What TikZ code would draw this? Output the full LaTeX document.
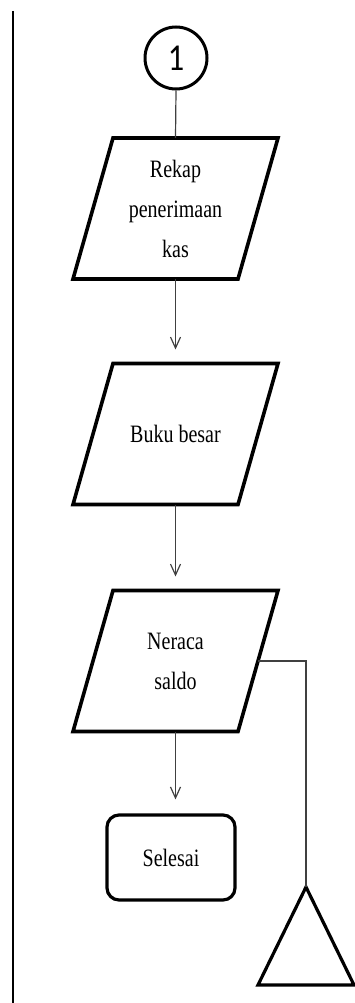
\documentclass[tikz,border=0pt]{standalone}
\usepackage{fontspec}
\usetikzlibrary{arrows.meta}
\newfontfamily\lblfont[FakeStretch=0.8]{Liberation Serif}
\newfontfamily\numfont[FakeStretch=0.85]{Carlito}
\tikzset{
  paraframe/.style={minimum width=205pt, minimum height=141pt, inner sep=0pt, outer sep=0pt, align=center, font=\lblfont\fontsize{25}{40}\selectfont},
  paraline/.style={line width=3.6pt, line join=miter},
  conn/.style={black!75, line width=1.2pt},
  arr/.style={conn, -{Straight Barb[length=11pt,width=10pt,line width=1.2pt]}, shorten >=14pt},
  termbox/.style={draw, line width=3.2pt, rounded corners=12pt, minimum width=128pt, minimum height=85pt, inner sep=0pt, font=\lblfont\fontsize{25}{40}\selectfont},
  connector/.style={draw, circle, line width=3pt, minimum size=62pt, inner sep=0pt, font=\numfont\fontsize{38}{40}\selectfont},
}
\begin{document}
\begin{tikzpicture}[x=1pt, y=-1pt]
\useasboundingbox (0,0) rectangle (354,1003);
% left border line
\coordinate (lt) at (13,11);
\coordinate (lb) at (13,1003);
\draw[black, line width=1.5pt] (lt) -- (lb);

\node[connector] (c1) at (176,58) {1};

\node[paraframe] (p1) at (175.5,208.5) {Rekap\\penerimaan\\kas};
\draw[paraline] ([xshift=40pt]p1.north west) -- (p1.north east) -- ([xshift=-40pt]p1.south east) -- (p1.south west) -- cycle;

\node[paraframe] (p2) at (175.5,434) {Buku besar};
\draw[paraline] ([xshift=40pt]p2.north west) -- (p2.north east) -- ([xshift=-40pt]p2.south east) -- (p2.south west) -- cycle;

\node[paraframe] (p3) at (175.5,661) {Neraca\\saldo};
\draw[paraline] ([xshift=40pt]p3.north west) -- (p3.north east) -- ([xshift=-40pt]p3.south east) -- (p3.south west) -- cycle;

\node[termbox] (sel) at (171,857.5) {Selesai};

% off-page connector triangle
\coordinate (ta) at (306,887);
\coordinate (tl) at (258,985);
\coordinate (tr) at (354,985);
\draw[line width=3.2pt, line join=miter] (ta) -- (tr) -- (tl) -- cycle;

% connectors
\draw[conn] (c1.south) -- (p1.north);
\draw[arr] (p1.south) -- (p2.north);
\draw[arr] (p2.south) -- (p3.north);
\draw[arr] (p3.south) -- (p3.south |- sel.north);
\coordinate (pe) at ([xshift=-20pt]p3.east);
\draw[conn] (pe) -- (pe -| ta) -- (ta);
\end{tikzpicture}
\end{document}
